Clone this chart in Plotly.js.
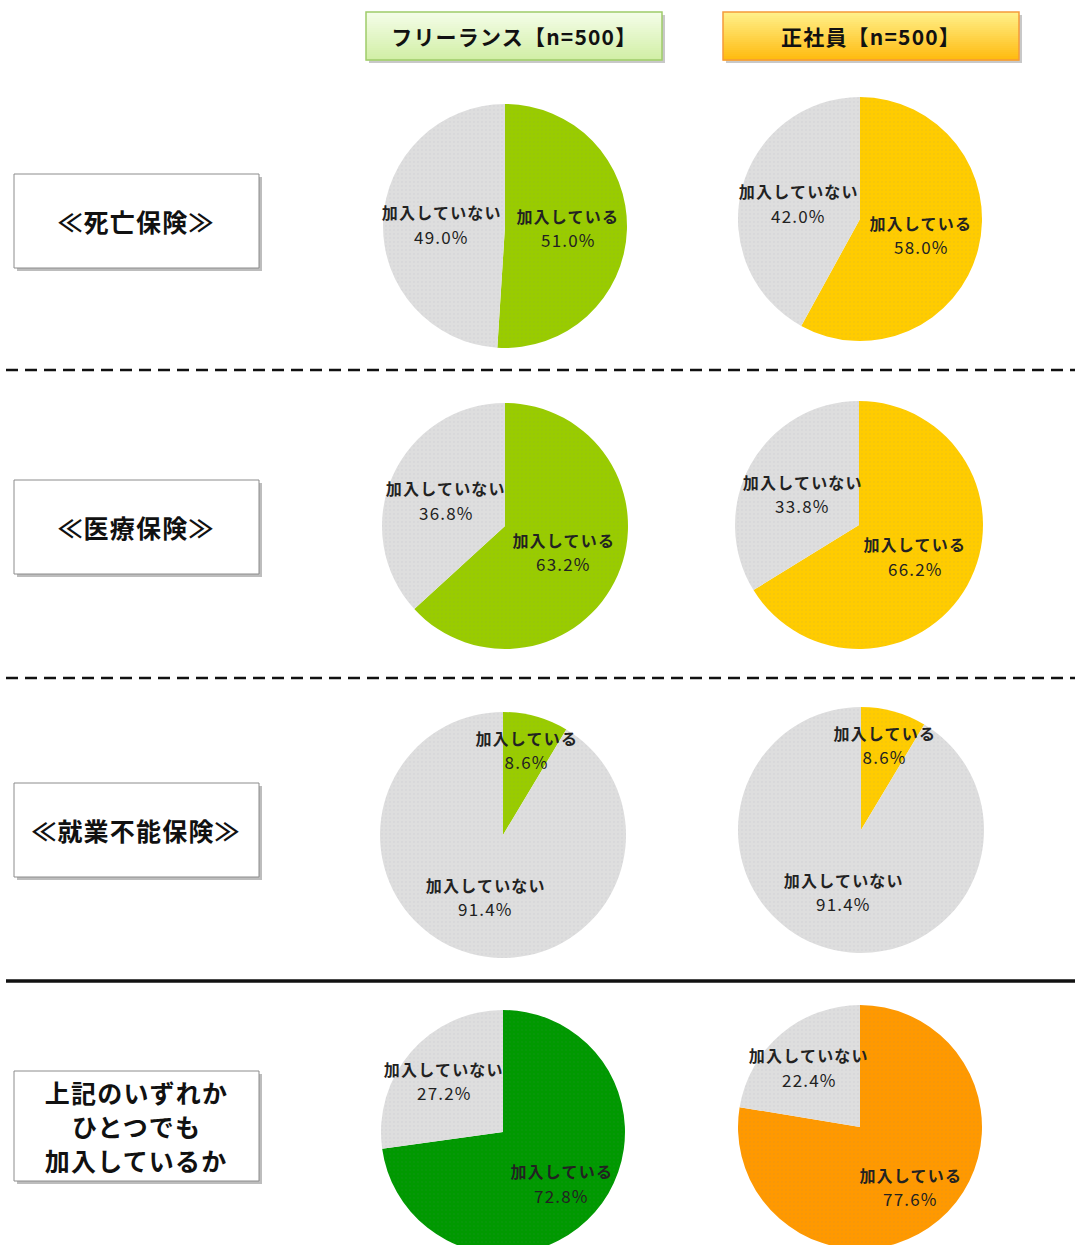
<!DOCTYPE html>
<html>
<head>
<meta charset="utf-8">
<script src="https://cdn.plot.ly/plotly-3.0.1.min.js"></script>
<style>
html,body{margin:0;padding:0;background:#fff;overflow:hidden;}
#wrap{width:1075px;height:1245px;overflow:hidden;position:relative;}
#chart{width:1075px;height:1265px;}
#chart .annotation-text{letter-spacing:1.2px;}
</style>
</head>
<body>
<div id="wrap"><div id="chart"></div></div>
<script>
// ---- data ----
const groupTitles = ['フリーランス【n=500】', '正社員【n=500】'];
const rowTitles = [['≪死亡保険≫'], ['≪医療保険≫'], ['≪就業不能保険≫'], ['上記のいずれか', 'ひとつでも', '加入しているか']];
const sliceLabels = ['加入している', '加入していない'];
const freelanceJoined = [51.0, 63.2, 8.6, 72.8];
const freelanceNotJoined = [49.0, 36.8, 91.4, 27.2];
const employeeJoined = [58.0, 66.2, 8.6, 77.6];
const employeeNotJoined = [42.0, 33.8, 91.4, 22.4];

// ---- styling / layout geometry ----
const W = 1075, H = 1265;
const FONT = '"Noto Sans CJK JP", "Noto Sans", sans-serif';
const GRAY = '#dedede';
const colors = [
  ['#99cc00', '#99cc00', '#99cc00', '#009900'],
  ['#ffcc00', '#ffcc00', '#ffcc00', '#ff9900']
];
const centers = [
  [[505, 226], [505, 526], [503, 835], [503, 1132]],
  [[860, 219], [859, 525], [861, 830], [860, 1127]]
];
const radii = [[122, 123, 123, 122], [122, 124, 123, 122]];
const labelFrac = [0.52, 0.52, 0.52, 0.64];
const rowBoxY = [[174, 268], [480, 574], [783, 877], [1071, 1181]];

const joined = [freelanceJoined, employeeJoined];
const notJoined = [freelanceNotJoined, employeeNotJoined];

const traces = [];
const annotations = [];
const shapes = [];

traces.push({type: 'scatter', x: [0, W], y: [0, H], mode: 'markers', marker: {opacity: 0}, hoverinfo: 'skip', showlegend: false});

for (let c = 0; c < 2; c++) {
  for (let r = 0; r < 4; r++) {
    const [cx, cy] = centers[c][r];
    const rad = radii[c][r];
    const vals = [joined[c][r], notJoined[c][r]];
    traces.push({
      type: 'pie',
      values: vals,
      labels: sliceLabels,
      sort: false,
      direction: 'clockwise',
      rotation: 0,
      textinfo: 'none',
      hoverinfo: 'label+percent',
      showlegend: false,
      marker: {
        colors: [colors[c][r], GRAY],
        line: {width: 0},
        pattern: {shape: '.', size: 4, solidity: 0.1, fgcolor: 'rgba(120,120,150,0.3)', fillmode: 'overlay'}
      },
      domain: {
        x: [(cx - rad) / W, (cx + rad) / W],
        y: [1 - (cy + rad) / H, 1 - (cy - rad) / H]
      }
    });
    const total = vals[0] + vals[1];
    let start = 0;
    for (let i = 0; i < 2; i++) {
      const share = vals[i] / total;
      const mid = (start + share / 2) * 2 * Math.PI;
      start += share;
      const f = share < 0.15 ? 0.72 : labelFrac[r];
      const ax = cx + Math.sin(mid) * rad * f;
      const ay = cy - Math.cos(mid) * rad * f;
      annotations.push({
        x: ax, y: ay - 12, xref: 'x', yref: 'y', showarrow: false,
        xanchor: 'center', yanchor: 'middle',
        text: '<b>' + sliceLabels[i] + '</b>',
        font: {family: FONT, size: 16, color: '#222'}
      });
      annotations.push({
        x: ax, y: ay + 12, xref: 'x', yref: 'y', showarrow: false,
        xanchor: 'center', yanchor: 'middle',
        text: vals[i].toFixed(1) + '%',
        font: {family: FONT, size: 17, color: '#222'}
      });
    }
  }
}

function gradBox(x0, y0, x1, y1, top, bottom, border) {
  shapes.push({type: 'rect', xref: 'x', yref: 'y', x0: x0 + 3, y0: y0 + 3, x1: x1 + 3, y1: y1 + 3, fillcolor: '#c8c8c8', line: {width: 0}, layer: 'below'});
  const n = 24;
  const p = s => [parseInt(s.slice(1, 3), 16), parseInt(s.slice(3, 5), 16), parseInt(s.slice(5, 7), 16)];
  const a = p(top), b = p(bottom);
  for (let i = 0; i < n; i++) {
    const t = i / (n - 1);
    const col = 'rgb(' + a.map((v, k) => Math.round(v + (b[k] - v) * t)).join(',') + ')';
    shapes.push({type: 'rect', xref: 'x', yref: 'y', x0: x0, x1: x1,
      y0: y0 + (y1 - y0) * i / n, y1: y0 + (y1 - y0) * (i + 1) / n + 0.5,
      fillcolor: col, line: {width: 0}, layer: 'below'});
  }
  shapes.push({type: 'rect', xref: 'x', yref: 'y', x0: x0, y0: y0, x1: x1, y1: y1, line: {color: border, width: 1.5}, fillcolor: 'rgba(0,0,0,0)', layer: 'below'});
}
gradBox(366, 12, 662, 60, '#f4fde8', '#d2efa6', '#9fcc6a');
gradBox(723, 12, 1019, 60, '#fff08a', '#ffbb10', '#f59a3a');
annotations.push({x: 514, y: 36, xref: 'x', yref: 'y', showarrow: false, text: '<b>' + groupTitles[0] + '</b>', font: {family: FONT, size: 21, color: '#111'}});
annotations.push({x: 871, y: 36, xref: 'x', yref: 'y', showarrow: false, text: '<b>' + groupTitles[1] + '</b>', font: {family: FONT, size: 21, color: '#111'}});

for (let r = 0; r < 4; r++) {
  const [y0, y1] = rowBoxY[r];
  shapes.push({type: 'rect', xref: 'x', yref: 'y', x0: 17, y0: y0 + 3, x1: 262, y1: y1 + 3, fillcolor: '#bdbdbd', line: {width: 0}, layer: 'below'});
  shapes.push({type: 'rect', xref: 'x', yref: 'y', x0: 14, y0: y0, x1: 259, y1: y1, fillcolor: '#ffffff', line: {color: '#8c8c8c', width: 1}, layer: 'below'});
  const lines = rowTitles[r];
  const mid = (y0 + y1) / 2;
  lines.forEach((t, k) => {
    annotations.push({x: 136, y: mid + (k - (lines.length - 1) / 2) * 34, xref: 'x', yref: 'y', showarrow: false,
      xanchor: 'center', yanchor: 'middle',
      text: '<b>' + t + '</b>', font: {family: FONT, size: 25, color: '#111'}});
  });
}

shapes.push({type: 'line', xref: 'x', yref: 'y', x0: 6, x1: 1075, y0: 370, y1: 370, line: {color: '#111', width: 2.5, dash: '12px,7px'}});
shapes.push({type: 'line', xref: 'x', yref: 'y', x0: 6, x1: 1075, y0: 678, y1: 678, line: {color: '#111', width: 2.5, dash: '12px,7px'}});
shapes.push({type: 'line', xref: 'x', yref: 'y', x0: 6, x1: 1075, y0: 981, y1: 981, line: {color: '#111', width: 3.5}});

const layout = {
  width: W, height: H,
  margin: {l: 0, r: 0, t: 0, b: 0},
  paper_bgcolor: '#ffffff', plot_bgcolor: 'rgba(0,0,0,0)',
  xaxis: {range: [0, W], visible: false, fixedrange: true},
  yaxis: {range: [H, 0], visible: false, fixedrange: true},
  showlegend: false,
  shapes: shapes,
  annotations: annotations,
  font: {family: FONT}
};
Plotly.newPlot('chart', traces, layout, {displayModeBar: false, staticPlot: true});
</script>
</body>
</html>
